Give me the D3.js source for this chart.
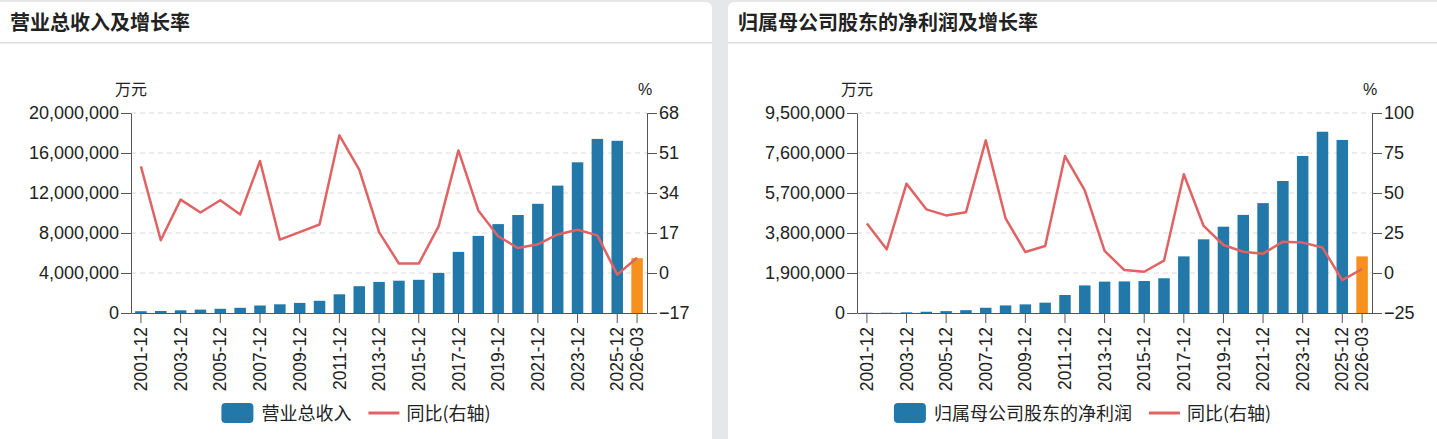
<!DOCTYPE html>
<html>
<head>
<meta charset="utf-8">
<script src="https://cdn.jsdelivr.net/npm/d3@7/dist/d3.min.js"></script>
<style>
  html, body { margin: 0; padding: 0; background: #e6e7e9; }
  svg { display: block; }
</style>
</head>
<body>
<svg id="chart" width="1437" height="439"></svg>
<script>
// Two bar + line panels: revenue and net profit with YoY growth.

const categories = [
  "2001-12", "2002-12", "2003-12", "2004-12", "2005-12", "2006-12", "2007-12",
  "2008-12", "2009-12", "2010-12", "2011-12", "2012-12", "2013-12", "2014-12",
  "2015-12", "2016-12", "2017-12", "2018-12", "2019-12", "2020-12", "2021-12",
  "2022-12", "2023-12", "2024-12", "2025-12", "2026-03",
];

const shownLabels = [
  "2001-12", "2003-12", "2005-12", "2007-12", "2009-12", "2011-12", "2013-12",
  "2015-12", "2017-12", "2019-12", "2021-12", "2023-12", "2025-12", "2026-03",
];

// 营业总收入 (万元)
const revenue = [
  180000, 200000, 270000, 340000, 420000, 520000, 750000, 870000, 1010000,
  1220000, 1870000, 2680000, 3110000, 3230000, 3320000, 4010000, 6110000,
  7710000, 8890000, 9800000, 10920000, 12740000, 15070000, 17410000, 17220000,
  5480000,
];
const revenueYoy = [
  45.3, 13.9, 31.2, 25.7, 30.9, 24.9, 47.6, 14.2, 17.4, 20.6, 58.5, 43.9, 17.4,
  4.0, 4.0, 19.8, 52.1, 26.6, 15.6, 10.6, 12.2, 16.4, 18.4, 16.0, -0.7, 6.5,
];
const revenueTicks = [0, 4000000, 8000000, 12000000, 16000000, 20000000];
const revenueYoyTicks = [-17, 0, 17, 34, 51, 68];

// 归属母公司股东的净利润 (万元)
const profit = [
  12000, 14000, 33000, 60000, 90000, 135000, 250000, 360000, 410000, 490000,
  855000, 1310000, 1490000, 1500000, 1520000, 1650000, 2690000, 3500000,
  4100000, 4660000, 5220000, 6270000, 7460000, 8610000, 8220000, 2690000,
];
const profitYoy = [
  31.0, 14.8, 55.8, 39.8, 36.0, 37.9, 82.9, 34.2, 13.1, 16.9, 73.1, 51.7, 13.8,
  1.8, 0.8, 7.7, 61.7, 29.4, 17.5, 13.3, 12.1, 19.6, 19.0, 15.9, -4.5, 2.5,
];
const profitTicks = [0, 1900000, 3800000, 5700000, 7600000, 9500000];
const profitYoyTicks = [-25, 0, 25, 50, 75, 100];

const BAR_COLOR = "#2279a9";
const LAST_COLOR = "#f7911d";
const LINE_COLOR = "#e06263";
const FONT = "'Liberation Sans', Arial, 'Noto Sans CJK SC', sans-serif";
const CJK = "'Noto Sans CJK SC', sans-serif";

const svg = d3.select("#chart");

function drawPanel({ left, right, title, barName, bars, yoy, barTicks, yoyTicks, plotX0, plotX1 }) {
  const top = 113;
  const bottom = 313;

  const panel = svg.append("g");
  panel.append("rect")
    .attr("x", left).attr("y", 2)
    .attr("width", right - left).attr("height", 460)
    .attr("rx", 6)
    .attr("fill", "#fff");
  panel.append("rect")
    .attr("x", left).attr("y", 42)
    .attr("width", right - left).attr("height", 1.5)
    .attr("fill", "#dcdcdc");
  panel.append("text")
    .attr("x", Math.max(left, 0) + 10).attr("y", 30)
    .attr("font-family", CJK).attr("font-weight", "bold")
    .attr("font-size", 20).attr("fill", "#222")
    .text(title);

  const x = d3.scaleBand()
    .domain(categories)
    .range([plotX0, plotX1])
    .paddingInner(0.42)
    .paddingOuter(0.21);
  const y = d3.scaleLinear()
    .domain([barTicks[0], barTicks[barTicks.length - 1]])
    .range([bottom, top]);
  const y2 = d3.scaleLinear()
    .domain([yoyTicks[0], yoyTicks[yoyTicks.length - 1]])
    .range([bottom, top]);

  // dashed grid
  panel.append("g")
    .selectAll("line")
    .data(barTicks.slice(1))
    .join("line")
    .attr("x1", plotX0).attr("x2", plotX1)
    .attr("y1", (d) => y(d)).attr("y2", (d) => y(d))
    .attr("stroke", "#dadada")
    .attr("stroke-dasharray", "5,4");

  panel.append("g")
    .selectAll("rect")
    .data(bars)
    .join("rect")
    .attr("x", (d, i) => x(categories[i]))
    .attr("width", x.bandwidth())
    .attr("y", (d) => y(d))
    .attr("height", (d) => y(0) - y(d))
    .attr("fill", (d, i) => (i === bars.length - 1 ? LAST_COLOR : BAR_COLOR));

  const line = d3.line()
    .x((d, i) => x(categories[i]) + x.bandwidth() / 2)
    .y((d) => y2(d));
  panel.append("path")
    .datum(yoy)
    .attr("d", line)
    .attr("fill", "none")
    .attr("stroke", LINE_COLOR)
    .attr("stroke-width", 2.5)
    .attr("stroke-linejoin", "round");

  const styleAxis = (size) => (g) => {
    g.selectAll(".domain").attr("stroke", "#555");
    g.selectAll(".tick line").attr("stroke", "#555");
    g.selectAll("text")
      .attr("font-family", FONT)
      .attr("font-size", size)
      .attr("fill", "#222");
  };

  panel.append("g")
    .attr("transform", `translate(${plotX0},0)`)
    .call(d3.axisLeft(y).tickValues(barTicks).tickFormat(d3.format(",")).tickSize(10).tickSizeOuter(0).tickPadding(2))
    .call(styleAxis(18));

  panel.append("g")
    .attr("transform", `translate(${plotX1},0)`)
    .call(d3.axisRight(y2).tickValues(yoyTicks).tickSize(10).tickSizeOuter(0).tickPadding(2))
    .call(styleAxis(18));

  const xAxis = panel.append("g")
    .attr("transform", `translate(0,${bottom})`)
    .call(d3.axisBottom(x).tickValues(shownLabels).tickSize(10).tickSizeOuter(0).tickPadding(4))
    .call(styleAxis(17.5));
  xAxis.selectAll("text")
    .attr("transform", "rotate(-90)")
    .attr("text-anchor", "end")
    .attr("x", -14)
    .attr("y", 0)
    .attr("dy", "0.35em");

  // unit labels
  panel.append("text")
    .attr("x", plotX0).attr("y", 95)
    .attr("text-anchor", "middle")
    .attr("font-family", CJK).attr("font-size", 16).attr("fill", "#222")
    .text("万元");
  panel.append("text")
    .attr("x", plotX1 - 2).attr("y", 95)
    .attr("text-anchor", "middle")
    .attr("font-family", FONT).attr("font-size", 16).attr("fill", "#222")
    .text("%");

  // legend, centred in the panel
  const legend = panel.append("g");
  let cx = 0;
  legend.append("rect")
    .attr("x", cx).attr("y", -10).attr("width", 32).attr("height", 20).attr("rx", 4)
    .attr("fill", BAR_COLOR);
  cx += 40;
  const t1 = legend.append("text")
    .attr("x", cx).attr("y", 6.5)
    .attr("font-family", CJK).attr("font-size", 18).attr("fill", "#222")
    .text(barName);
  cx += t1.node().getComputedTextLength() + 17;
  legend.append("line")
    .attr("x1", cx).attr("x2", cx + 31).attr("y1", 0).attr("y2", 0)
    .attr("stroke", LINE_COLOR).attr("stroke-width", 3);
  cx += 38;
  const t2 = legend.append("text")
    .attr("x", cx).attr("y", 6.5)
    .attr("font-family", CJK).attr("font-size", 18).attr("fill", "#222")
    .text("同比(右轴)");
  cx += t2.node().getComputedTextLength();
  const mid = (Math.max(left, 0) + Math.min(right, 1437)) / 2;
  legend.attr("transform", `translate(${mid - cx / 2},413)`);
}

drawPanel({
  left: -8,
  right: 712,
  title: "营业总收入及增长率",
  barName: "营业总收入",
  bars: revenue,
  yoy: revenueYoy,
  barTicks: revenueTicks,
  yoyTicks: revenueYoyTicks,
  plotX0: 131,
  plotX1: 647,
});

drawPanel({
  left: 728,
  right: 1445,
  title: "归属母公司股东的净利润及增长率",
  barName: "归属母公司股东的净利润",
  bars: profit,
  yoy: profitYoy,
  barTicks: profitTicks,
  yoyTicks: profitYoyTicks,
  plotX0: 857,
  plotX1: 1372,
});
</script>
</body>
</html>
